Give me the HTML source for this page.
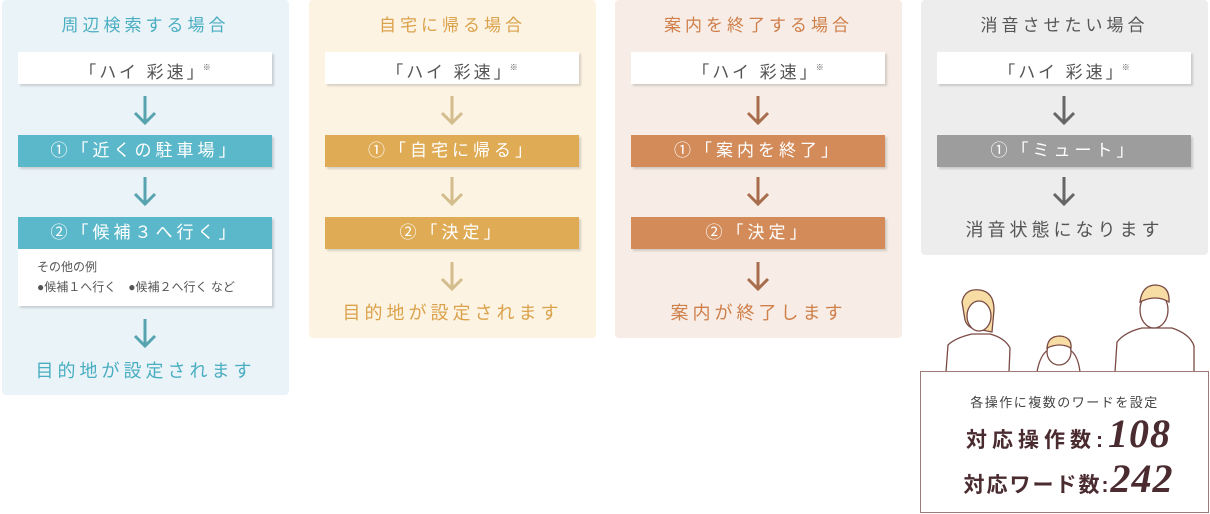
<!DOCTYPE html>
<html><head><meta charset="utf-8"><style>
*{margin:0;padding:0;box-sizing:border-box}
body{width:1210px;height:514px;background:#fff;position:relative;overflow:hidden;font-family:"Liberation Sans","Noto Sans CJK JP",sans-serif}
.p{position:absolute;top:0;border-radius:4px}
.a{position:absolute}
.t{position:absolute;left:0;width:100%;text-align:center;font-size:17px;letter-spacing:4px;line-height:20px}
.w{position:absolute;left:16px;width:254px;height:32px;background:#fff;box-shadow:2px 2px 2px rgba(0,0,0,.15);text-align:center;font-size:17px;line-height:32px;color:#555;letter-spacing:3px}
.w sup{font-size:8px;vertical-align:8px;letter-spacing:0;margin-left:-4px}
.s{position:absolute;left:16px;width:254px;height:32px;box-shadow:2px 2px 2px rgba(0,0,0,.15);text-align:center;font-size:17px;line-height:32px;color:#fff;letter-spacing:4px}
.ar{position:absolute;left:130px;width:26px;height:30px}
</style></head><body>

<div class="p" style="left:2px;width:287px;height:395px;background:#eaf3f7">
 <div class="t" style="top:16px;color:#4aaec2">周辺検索する場合</div>
 <div class="w" style="top:52px">「ハイ 彩速」<sup>※</sup></div>
 <svg class="ar" style="top:96px" viewBox="0 0 26 30"><path d="M13 0V27M3 17L13 27L23 17" fill="none" stroke="#58a3b0" stroke-width="3"/></svg>
 <div class="s" style="top:135px;background:#5bb8ca">①「近くの駐車場」</div>
 <svg class="ar" style="top:177px" viewBox="0 0 26 30"><path d="M13 0V27M3 17L13 27L23 17" fill="none" stroke="#58a3b0" stroke-width="3"/></svg>
 <div class="s" style="top:217px;background:#5bb8ca">②「候補３へ行く」</div>
 <div class="a" style="left:16px;top:249px;width:254px;height:57px;background:#fff;box-shadow:2px 2px 2px rgba(0,0,0,.15);font-size:12px;color:#555;padding:8px 0 0 19px;line-height:20px">その他の例<br>●候補１へ行く　●候補２へ行く など</div>
 <svg class="ar" style="top:319px" viewBox="0 0 26 30"><path d="M13 0V27M3 17L13 27L23 17" fill="none" stroke="#58a3b0" stroke-width="3"/></svg>
 <div class="t" style="top:361px;color:#4aaec2;font-size:18px">目的地が設定されます</div>
</div>

<div class="p" style="left:309px;width:287px;height:338px;background:#fcf3e3">
 <div class="t" style="top:16px;color:#dba24c">自宅に帰る場合</div>
 <div class="w" style="top:52px">「ハイ 彩速」<sup>※</sup></div>
 <svg class="ar" style="top:96px" viewBox="0 0 26 30"><path d="M13 0V27M3 17L13 27L23 17" fill="none" stroke="#d3bd8c" stroke-width="3"/></svg>
 <div class="s" style="top:135px;background:#dfab54">①「自宅に帰る」</div>
 <svg class="ar" style="top:177px" viewBox="0 0 26 30"><path d="M13 0V27M3 17L13 27L23 17" fill="none" stroke="#d3bd8c" stroke-width="3"/></svg>
 <div class="s" style="top:217px;background:#dfab54">②「決定」</div>
 <svg class="ar" style="top:262px" viewBox="0 0 26 30"><path d="M13 0V27M3 17L13 27L23 17" fill="none" stroke="#d3bd8c" stroke-width="3"/></svg>
 <div class="t" style="top:303px;color:#dba24c;font-size:18px">目的地が設定されます</div>
</div>

<div class="p" style="left:615px;width:287px;height:338px;background:#f7ede6">
 <div class="t" style="top:16px;color:#cf7f4a">案内を終了する場合</div>
 <div class="w" style="top:52px">「ハイ 彩速」<sup>※</sup></div>
 <svg class="ar" style="top:96px" viewBox="0 0 26 30"><path d="M13 0V27M3 17L13 27L23 17" fill="none" stroke="#a86d4c" stroke-width="3"/></svg>
 <div class="s" style="top:135px;background:#d38b5a">①「案内を終了」</div>
 <svg class="ar" style="top:177px" viewBox="0 0 26 30"><path d="M13 0V27M3 17L13 27L23 17" fill="none" stroke="#a86d4c" stroke-width="3"/></svg>
 <div class="s" style="top:217px;background:#d38b5a">②「決定」</div>
 <svg class="ar" style="top:262px" viewBox="0 0 26 30"><path d="M13 0V27M3 17L13 27L23 17" fill="none" stroke="#a86d4c" stroke-width="3"/></svg>
 <div class="t" style="top:303px;color:#cf7f4a;font-size:18px">案内が終了します</div>
</div>

<div class="p" style="left:921px;width:287px;height:255px;background:#ededed">
 <div class="t" style="top:16px;color:#555">消音させたい場合</div>
 <div class="w" style="top:52px">「ハイ 彩速」<sup>※</sup></div>
 <svg class="ar" style="top:96px" viewBox="0 0 26 30"><path d="M13 0V27M3 17L13 27L23 17" fill="none" stroke="#666" stroke-width="3"/></svg>
 <div class="s" style="top:135px;background:#9d9d9d">①「ミュート」</div>
 <svg class="ar" style="top:177px" viewBox="0 0 26 30"><path d="M13 0V27M3 17L13 27L23 17" fill="none" stroke="#666" stroke-width="3"/></svg>
 <div class="t" style="top:220px;color:#555;font-size:18px">消音状態になります</div>
</div>

<svg class="a" style="left:910px;top:280px" width="300" height="100" viewBox="0 0 300 100">
 <g fill="#fff" stroke="#7a4a44" stroke-width="1.3">
  <path d="M36 92 L38 65 Q45 58 62 54 L80 54 Q95 58 100 68 L99 92Z"/>
  <path d="M52 22 Q55 8 70 10 Q84 12 84 30 L82 52 L72 50 Q58 50 55 40Z" fill="#f7dca4"/>
  <ellipse cx="69" cy="36" rx="12" ry="15"/>
  <path d="M127 92 Q130 75 138 70 L160 70 Q168 75 170 92Z"/>
  <ellipse cx="149" cy="72" rx="12" ry="13"/>
  <path d="M137 68 Q138 56 150 56 Q162 57 161 68 Q150 62 137 68Z" fill="#f7dca4"/>
  <path d="M205 92 L207 62 Q215 52 232 48 L262 48 Q280 54 284 66 L284 92Z"/>
  <ellipse cx="244" cy="30" rx="14" ry="18"/>
  <path d="M230 22 Q232 5 246 5 Q260 6 259 22 Q246 14 230 22Z" fill="#f7dca4"/>
 </g>
</svg>

<div class="a" style="left:920px;top:371px;width:289px;height:142px;background:#fff;border:1.5px solid #a07a78;text-align:center;color:#4a2b30">
 <div style="font-size:13px;color:#444;letter-spacing:1.5px;margin-top:20px">各操作に複数のワードを設定</div>
 <div style="font-size:21px;font-weight:bold;letter-spacing:5px;margin-top:4px;line-height:38px;padding-left:8px">対応操作数:<span style="font-family:'Liberation Serif',serif;font-style:italic;font-size:40px;letter-spacing:1px">108</span></div>
 <div style="font-size:21px;font-weight:bold;letter-spacing:2px;line-height:38px;padding-left:8px">対応ワード数:<span style="font-family:'Liberation Serif',serif;font-style:italic;font-size:40px;letter-spacing:1px">242</span></div>
</div>
</body></html>
